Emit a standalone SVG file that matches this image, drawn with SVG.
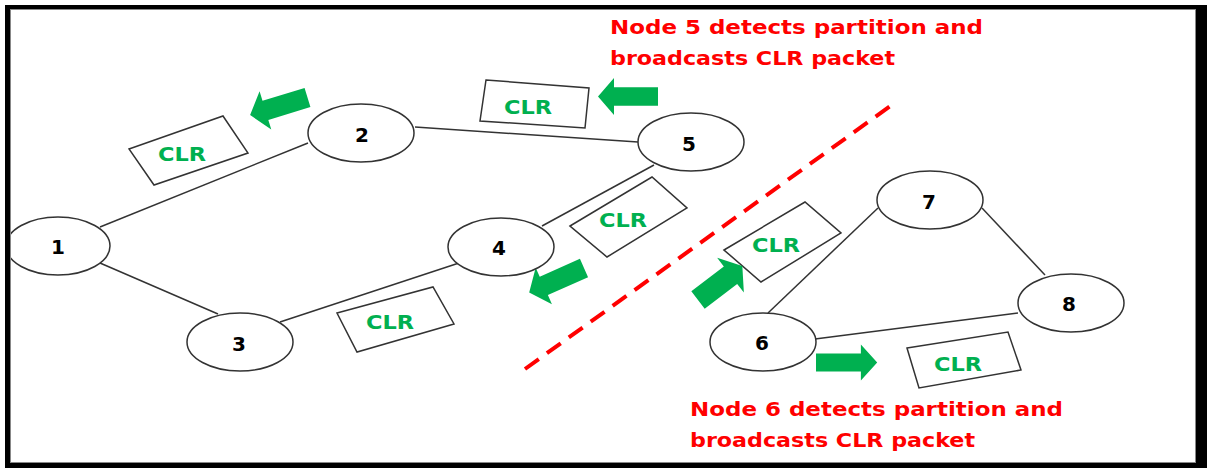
<svg xmlns="http://www.w3.org/2000/svg" xmlns:xlink="http://www.w3.org/1999/xlink" width="1207" height="468" viewBox="0 0 1207 468">
  <style>
    .node ellipse { fill: #ffffff; stroke: #333333; stroke-width: 1.5; }
    .node text { font-family: "DejaVu Sans", "Liberation Sans", sans-serif; font-weight: bold; font-size: 20px; fill: #000000; text-anchor: middle; }
    .edge { stroke: #333333; stroke-width: 1.5; fill: none; }
    .pkt polygon { fill: #ffffff; stroke: #333333; stroke-width: 1.5; }
    .pkt text { font-family: "DejaVu Sans", "Liberation Sans", sans-serif; font-weight: bold; font-size: 19px; fill: #00b050; text-anchor: middle; }
    .flow { fill: #00b050; }
    .note { font-family: "DejaVu Sans", "Liberation Sans", sans-serif; font-weight: bold; font-size: 20px; fill: #ff0000; }
    .cut { stroke: #ff0000; stroke-width: 4; stroke-dasharray: 17 10; fill: none; }
  </style>
  <defs>
    <!-- block arrow pointing along +x, tail at origin -->
    <polygon id="blockArrow" points="0,-10 44,-10 44,-20 60,0 44,20 44,10 0,10"/>
  </defs>

  <!-- canvas -->
  <rect x="0" y="0" width="1207" height="468" fill="#ffffff"/>

  <!-- links -->
  <g id="connectors">
    <line class="edge" x1="100" y1="227" x2="308" y2="143"/>
    <line class="edge" x1="100" y1="263" x2="218" y2="314"/>
    <line class="edge" x1="280" y1="322" x2="459" y2="263"/>
    <line class="edge" x1="415" y1="127" x2="638" y2="142"/>
    <line class="edge" x1="542" y1="226" x2="654" y2="165"/>
    <line class="edge" x1="768" y1="313" x2="878" y2="208"/>
    <line class="edge" x1="982" y1="208" x2="1045" y2="275"/>
    <line class="edge" x1="815" y1="339" x2="1018" y2="313"/>
  </g>

  <!-- partition line -->
  <line id="partition" class="cut" x1="525" y1="369" x2="896" y2="102"/>

  <!-- CLR packets -->
  <g id="packets">
    <g id="pkt-a" class="pkt">
      <polygon points="129,149 223,116 248,153 154,185"/>
      <text x="182" y="161" textLength="48" lengthAdjust="spacingAndGlyphs">CLR</text>
    </g>
    <g id="pkt-b" class="pkt">
      <polygon points="486,80 589,88 585,128 480,121"/>
      <text x="528" y="114" textLength="48" lengthAdjust="spacingAndGlyphs">CLR</text>
    </g>
    <g id="pkt-c" class="pkt">
      <polygon points="570,226 652,177 687,208 607,257"/>
      <text x="623" y="227" textLength="48" lengthAdjust="spacingAndGlyphs">CLR</text>
    </g>
    <g id="pkt-d" class="pkt">
      <polygon points="724,250 805,202 841,233 761,282"/>
      <text x="776" y="252" textLength="48" lengthAdjust="spacingAndGlyphs">CLR</text>
    </g>
    <g id="pkt-e" class="pkt">
      <polygon points="337,313 433,287 454,324 357,352"/>
      <text x="390" y="329" textLength="48" lengthAdjust="spacingAndGlyphs">CLR</text>
    </g>
    <g id="pkt-f" class="pkt">
      <polygon points="907,348 1008,332 1021,370 919,388"/>
      <text x="958" y="371" textLength="48" lengthAdjust="spacingAndGlyphs">CLR</text>
    </g>
  </g>

  <!-- broadcast direction arrows -->
  <g id="arrows" class="flow">
    <use xlink:href="#blockArrow" transform="translate(307.5,97.5) rotate(163)"/>
    <use xlink:href="#blockArrow" transform="translate(658,96.5) rotate(180) scale(1,0.92)"/>
    <use xlink:href="#blockArrow" transform="translate(584,268) rotate(156)"/>
    <use xlink:href="#blockArrow" transform="translate(698,300) rotate(-37.4) scale(0.93,1.1)"/>
    <use xlink:href="#blockArrow" transform="translate(816,362.5) scale(1.02,0.9)"/>
  </g>

  <!-- nodes -->
  <g id="node1" class="node"><ellipse cx="58" cy="246" rx="52" ry="29"/><text x="58" y="254">1</text></g>
  <g id="node2" class="node"><ellipse cx="361" cy="133" rx="53" ry="29"/><text x="362" y="142">2</text></g>
  <g id="node3" class="node"><ellipse cx="240" cy="342" rx="53" ry="29"/><text x="239" y="351">3</text></g>
  <g id="node4" class="node"><ellipse cx="501" cy="247" rx="53" ry="29"/><text x="499" y="255">4</text></g>
  <g id="node5" class="node"><ellipse cx="691" cy="142" rx="53" ry="29"/><text x="689" y="151">5</text></g>
  <g id="node6" class="node"><ellipse cx="763" cy="342" rx="53" ry="29"/><text x="762" y="350">6</text></g>
  <g id="node7" class="node"><ellipse cx="930" cy="200" rx="53" ry="29"/><text x="929" y="209">7</text></g>
  <g id="node8" class="node"><ellipse cx="1071" cy="303" rx="53" ry="29"/><text x="1069" y="311">8</text></g>

  <!-- annotations -->
  <g id="note-5">
    <text class="note" x="610" y="34" textLength="373" lengthAdjust="spacingAndGlyphs">Node 5 detects partition and</text>
    <text class="note" x="610" y="65" textLength="285" lengthAdjust="spacingAndGlyphs">broadcasts CLR packet</text>
  </g>
  <g id="note-6">
    <text class="note" x="690" y="416" textLength="373" lengthAdjust="spacingAndGlyphs">Node 6 detects partition and</text>
    <text class="note" x="690" y="447" textLength="285" lengthAdjust="spacingAndGlyphs">broadcasts CLR packet</text>
  </g>

  <!-- frame, drawn last so it clips node 1 at the left edge -->
  <path d="M5,5 H1207 V468 H5 Z M10,9 V463 H1196 V9 Z" fill="#000000" fill-rule="evenodd"/>
  <rect x="10.5" y="9.5" width="1185" height="453" fill="none" stroke="#888888" stroke-width="1"/>
</svg>
